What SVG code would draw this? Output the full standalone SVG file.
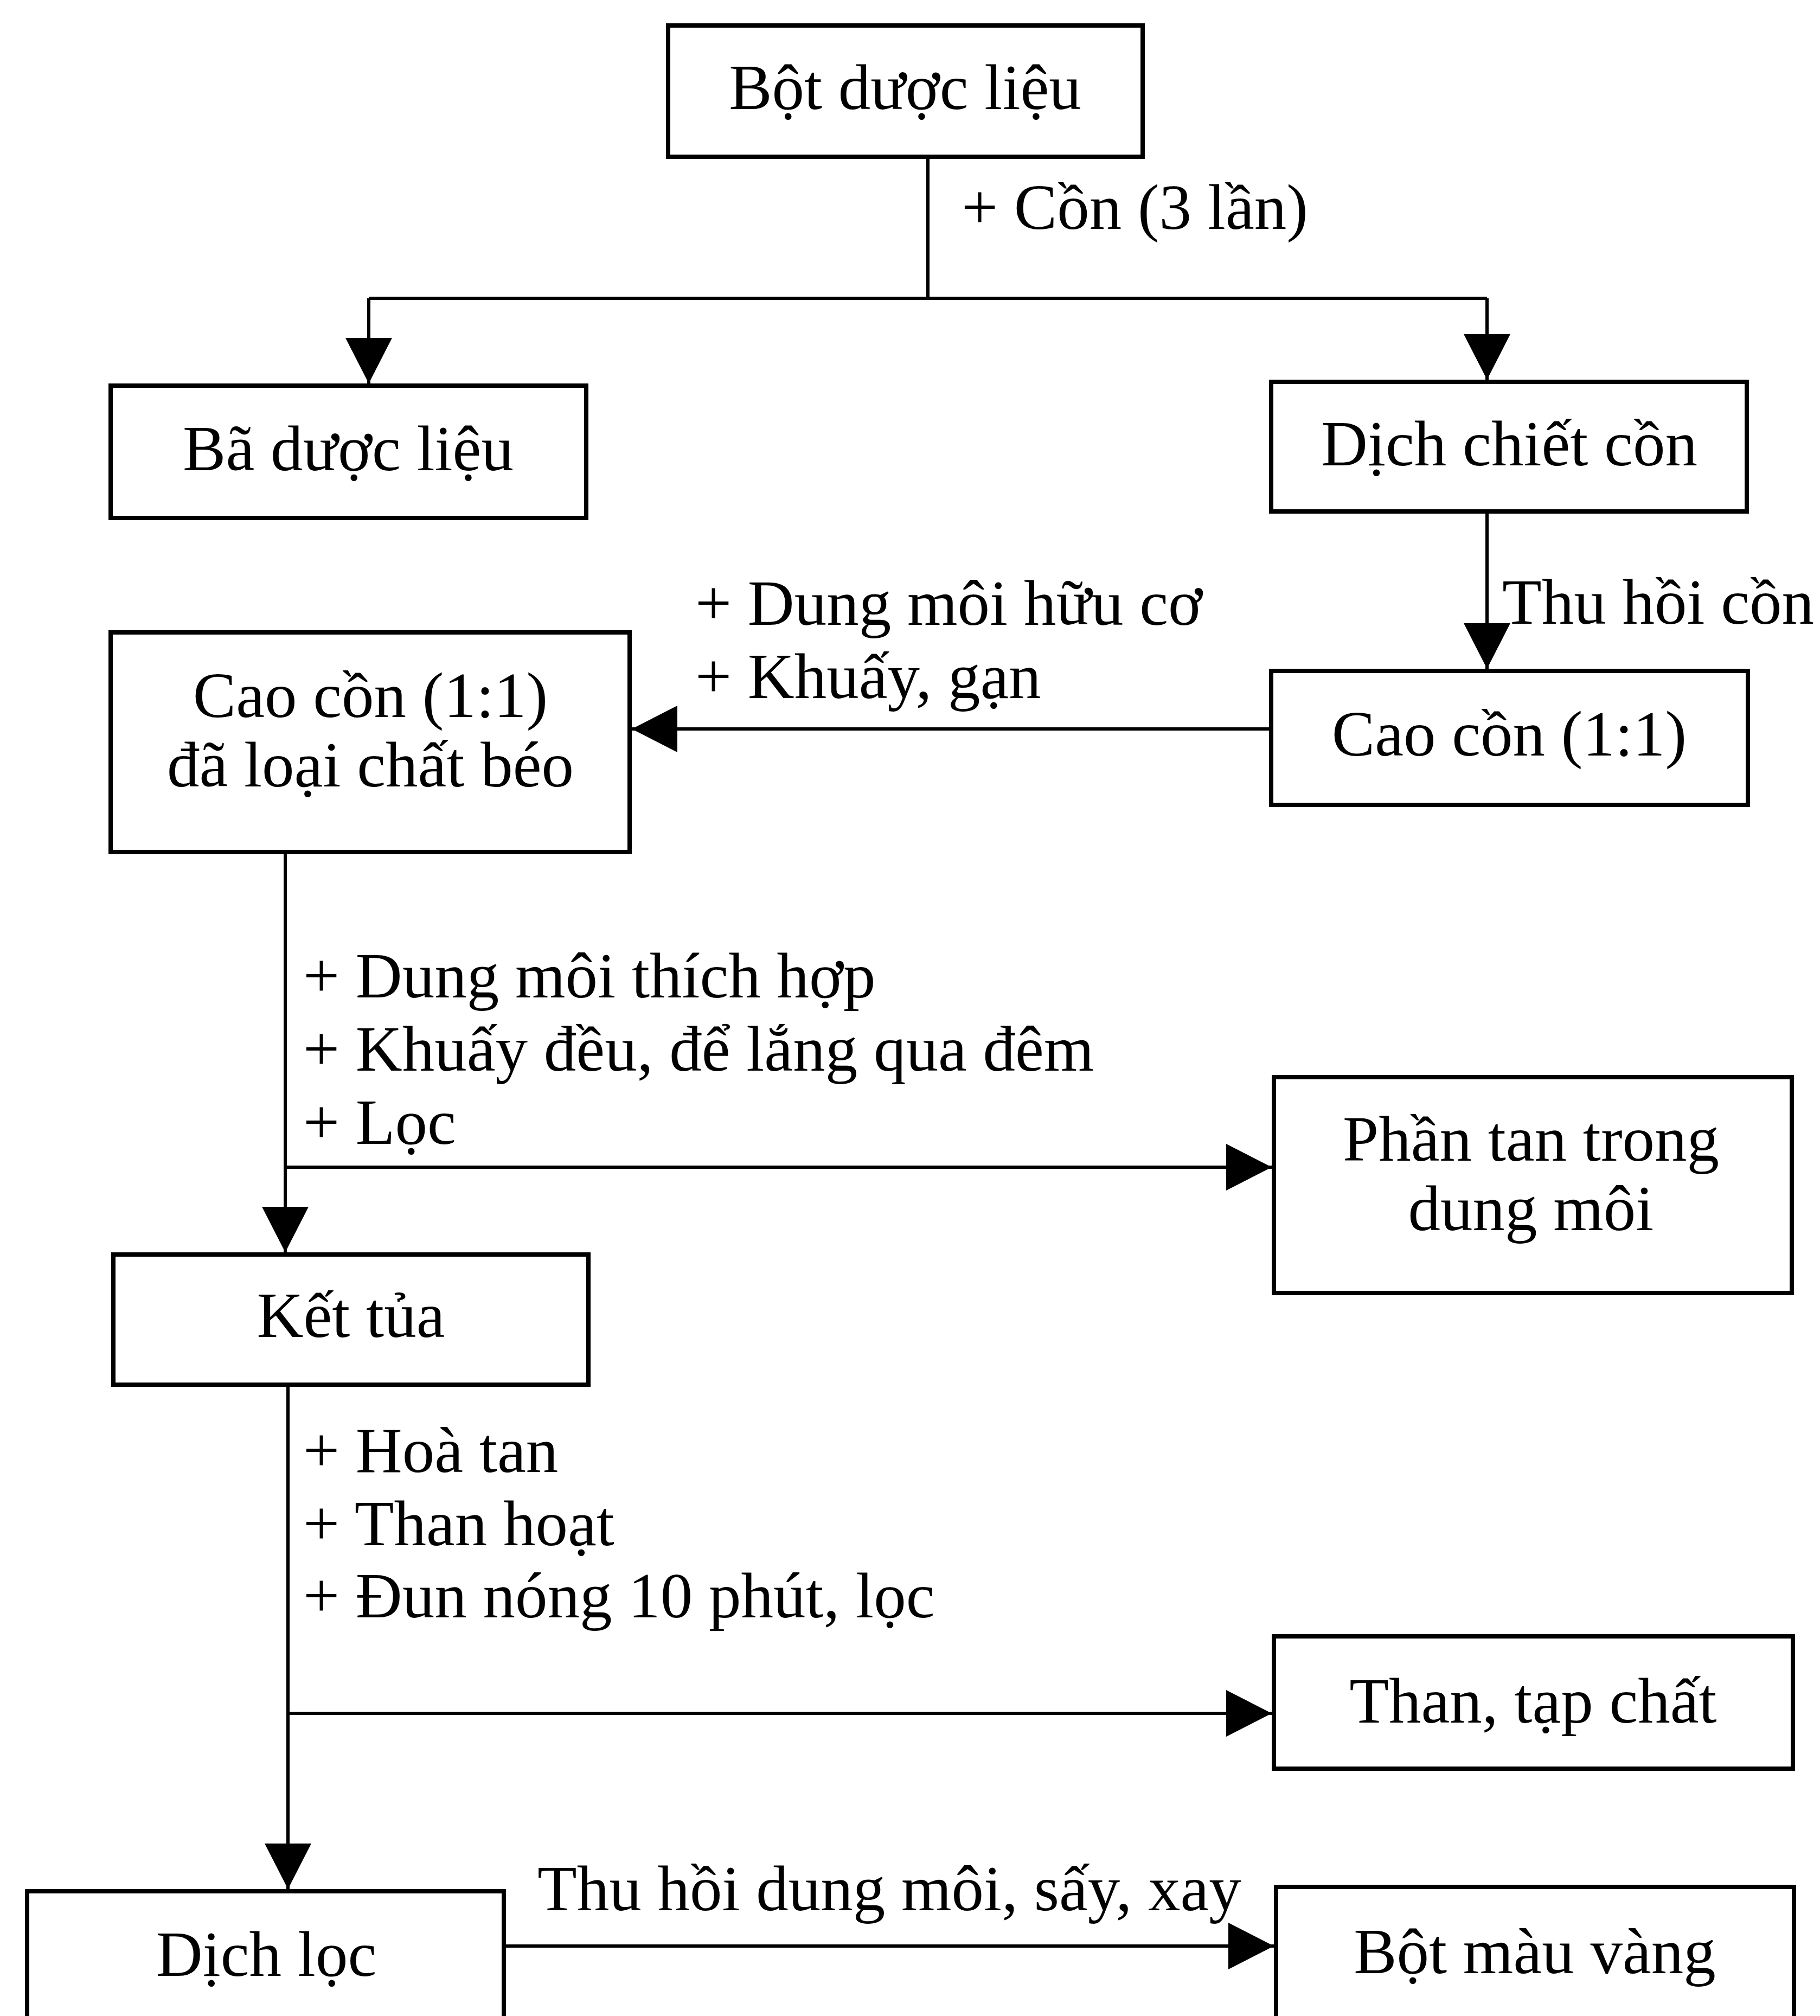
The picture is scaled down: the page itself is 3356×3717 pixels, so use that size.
<svg xmlns="http://www.w3.org/2000/svg" width="3356" height="3717" viewBox="0 0 3356 3717">
<style>
text{font-family:"Liberation Serif","Times New Roman",serif;font-size:119px;fill:#000}
.c{text-anchor:middle}
.box{fill:#fff;stroke:#000;stroke-width:8}
.ln{fill:none;stroke:#000;stroke-width:6}
</style>
<defs>
<marker id="ah" viewBox="0 0 84 86" refX="84" refY="43" markerWidth="84" markerHeight="86" markerUnits="userSpaceOnUse" orient="auto">
<path d="M0,0 L84,43 L0,86 z" fill="#000"/>
</marker>
</defs>
<rect width="3356" height="3717" fill="#fff"/>
<g id="connectors">
<path class="ln" d="M1711,289 V550"/>
<path class="ln" d="M680,550 H2742"/>
<path class="ln" d="M680,550 V707" marker-end="url(#ah)"/>
<path class="ln" d="M2742,550 V700" marker-end="url(#ah)"/>
<path class="ln" d="M2742,943 V1233" marker-end="url(#ah)"/>
<path class="ln" d="M2344,1344 H1165" marker-end="url(#ah)"/>
<path class="ln" d="M526,1571 V2309" marker-end="url(#ah)"/>
<path class="ln" d="M526,2152 H2345" marker-end="url(#ah)"/>
<path class="ln" d="M531,2553 V3483" marker-end="url(#ah)"/>
<path class="ln" d="M531,3159 H2345" marker-end="url(#ah)"/>
<path class="ln" d="M929,3588 H2349" marker-end="url(#ah)"/>
<text x="1773" y="422">+ Cồn (3 lần)</text>
<text x="2770" y="1150">Thu hồi cồn</text>
<text x="1282" y="1152">+ Dung môi hữu cơ</text>
<text x="1282" y="1287">+ Khuấy, gạn</text>
<text x="559" y="1839">+ Dung môi thích hợp</text>
<text x="559" y="1974">+ Khuấy đều, để lắng qua đêm</text>
<text x="559" y="2109">+ Lọc</text>
<text x="559" y="2714">+ Hoà tan</text>
<text x="559" y="2849">+ Than hoạt</text>
<text x="559" y="2982">+ Đun nóng 10 phút, lọc</text>
<text x="991" y="3522">Thu hồi dung môi, sấy, xay</text>
</g>
<g id="n1"><rect class="box" x="1232" y="47" width="875" height="242"/><text class="c" x="1669" y="201">Bột dược liệu</text></g>
<g id="n2"><rect class="box" x="204" y="711" width="877" height="244"/><text class="c" x="642" y="867">Bã dược liệu</text></g>
<g id="n3"><rect class="box" x="2344" y="704" width="877" height="239"/><text class="c" x="2783" y="858">Dịch chiết cồn</text></g>
<g id="n4"><rect class="box" x="2344" y="1237" width="879" height="247"/><text class="c" x="2783" y="1393">Cao cồn (1:1)</text></g>
<g id="n5"><rect class="box" x="204" y="1166" width="957" height="405"/><text class="c" x="683" y="1322">Cao cồn (1:1)</text><text class="c" x="683" y="1450">đã loại chất béo</text></g>
<g id="n6"><rect class="box" x="2349" y="1986" width="955" height="398"/><text class="c" x="2823" y="2140">Phần tan trong</text><text class="c" x="2823" y="2268">dung môi</text></g>
<g id="n7"><rect class="box" x="209" y="2313" width="876" height="240"/><text class="c" x="647" y="2465">Kết tủa</text></g>
<g id="n8"><rect class="box" x="2349" y="3017" width="957" height="244"/><text class="c" x="2827" y="3176">Than, tạp chất</text></g>
<g id="n9"><rect class="box" x="50" y="3487" width="879" height="300"/><text class="c" x="491" y="3643">Dịch lọc</text></g>
<g id="n10"><rect class="box" x="2353" y="3479" width="955" height="300"/><text class="c" x="2830" y="3638">Bột màu vàng</text></g>
</svg>
